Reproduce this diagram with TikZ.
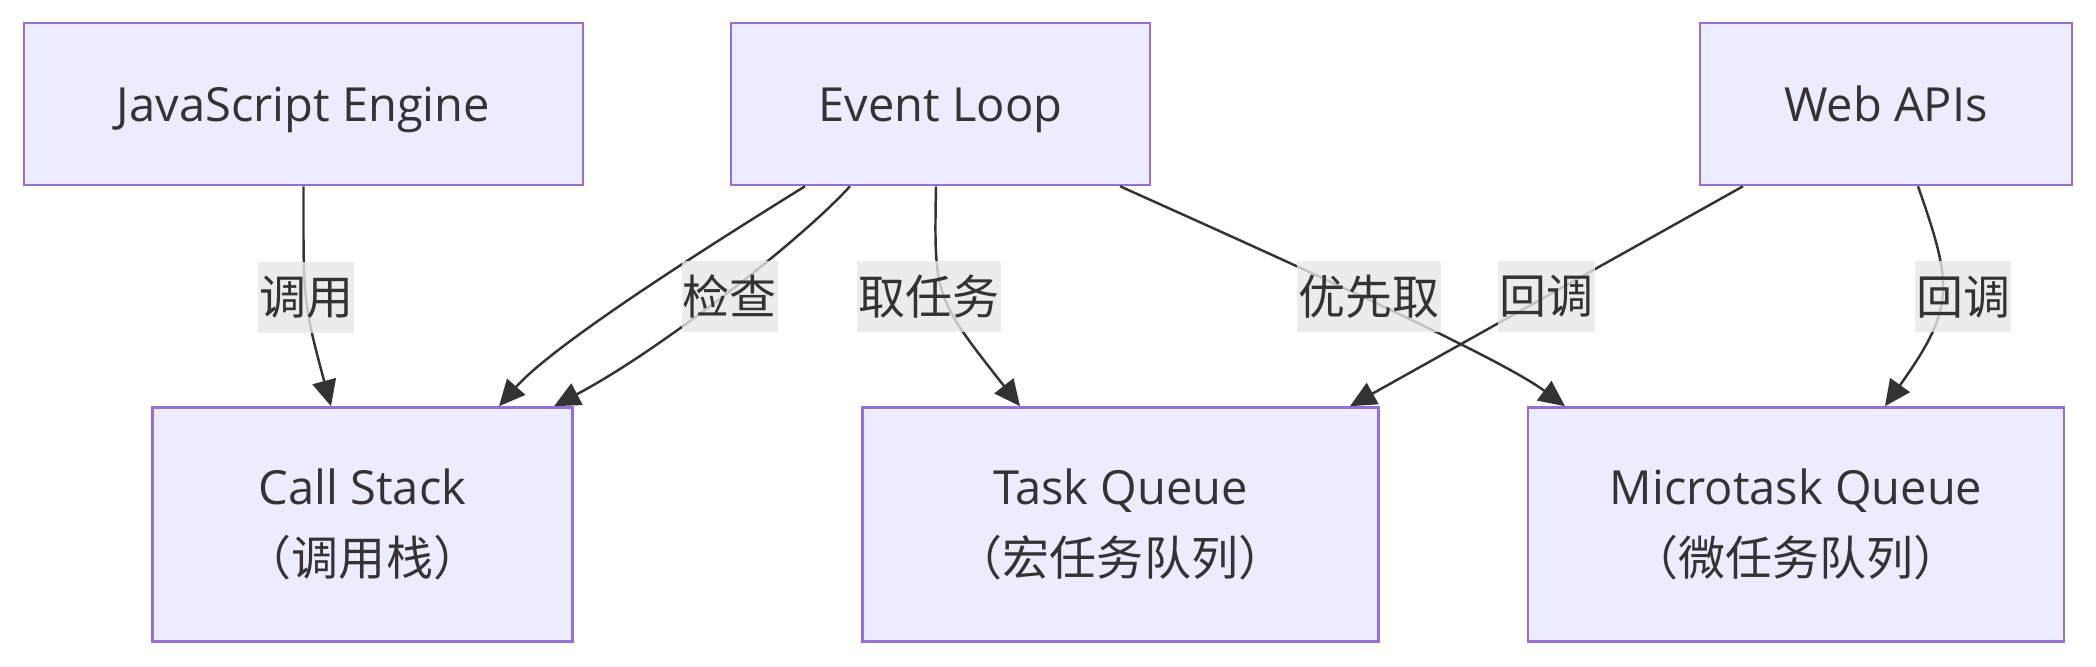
\documentclass[tikz,border=0pt]{standalone}
\usepackage{fontspec}
\setmainfont{Open Sans}
\newfontfamily\cjk{Noto Sans CJK SC}
\usepackage{xcolor}
\usepackage{tikz}
\usetikzlibrary{arrows.meta,calc}
\definecolor{boxfill}{HTML}{ECECFF}
\definecolor{boxline}{HTML}{9370DB}
\definecolor{ink}{HTML}{333333}
\definecolor{lblfill}{HTML}{E8E8E8}
\tikzset{
  box/.style={draw=boxline, fill=boxfill, line width=0.7pt, align=center, inner sep=0pt, text=ink, font=\fontsize{13.37}{20.06}\selectfont},
  tbox/.style={box, minimum height=1.62cm, text height=9.9pt, text depth=0pt},
  qbox/.style={box, minimum height=2.34cm},
  line/.style={-{Triangle[length=0.26cm,width=0.24cm]}, draw=ink, line width=0.7pt},
  elabel/.style={fill=lblfill, fill opacity=0.8, text opacity=1, text=ink, inner xsep=0.01cm, inner ysep=0pt, minimum height=0.71cm, font=\cjk\fontsize{13.37}{20.06}\selectfont}
}

\begin{document}
\begin{tikzpicture}[x=0.01cm,y=-0.01cm]
        \path[fill=white,use as bounding box] (0,0) rectangle (2096,666);
        \node[tbox, minimum width=5.59cm] (js) at (303.5,104) {JavaScript Engine};
        \node[tbox, minimum width=4.19cm] (loop) at (940.5,104) {Event Loop};
        \node[tbox, minimum width=3.72cm] (webapi) at (1886,104) {Web APIs};
        \node[qbox, minimum width=4.20cm] (stack) at (362.5,524.5) {Call Stack\\{\cjk （调用栈）}};
        \node[qbox, minimum width=5.16cm] (taskq) at (1120.5,524.5) {Task Queue\\{\cjk （宏任务队列）}};
        \node[qbox, minimum width=5.36cm] (microq) at (1796,524.5) {Microtask Queue\\{\cjk （微任务队列）}};
        \draw[line] (js.south) .. controls +(0,110) and +(-29,-107) .. ($(stack.north)+(-31.5,0)$) node[elabel,pos=.5] {调用};
        \draw[line] ($(loop.south)+(-135.5,0)$) .. controls +(-100,62) and +(55,-62) .. ($(stack.north)+(136.5,0)$);
        \draw[line] ($(loop.south)+(-90.5,0)$) .. controls +(-50,55) and +(103,-54) .. ($(stack.north)+(191.5,0)$) node[elabel,pos=.5,xshift=0.08cm] {检查};
        \draw[line] ($(loop.south)+(-4.5,0)$) .. controls +(-2,110) and +(-86,-109) .. ($(taskq.north)+(-100.5,0)$) node[elabel,pos=.5,xshift=-0.16cm] {取任务};
        \draw[line] ($(loop.south)+(179.5,0)$) .. controls +(120,54) and +(-70.7,-52.7) .. ($(microq.north)+(-231,0)$) node[elabel,pos=.5,xshift=0.08cm] {优先取};
        \draw[line] ($(webapi.south)+(-143,0)$) -- ($(taskq.north)+(229.5,0)$) node[elabel,pos=.5] {回调};
        \draw[line] ($(webapi.south)+(32,0)$) .. controls +(35,100) and +(70.3,-98.7) .. ($(microq.north)+(89,0)$) node[elabel,pos=.5,xshift=0.22cm] {回调};
      \end{tikzpicture}
\end{document}
